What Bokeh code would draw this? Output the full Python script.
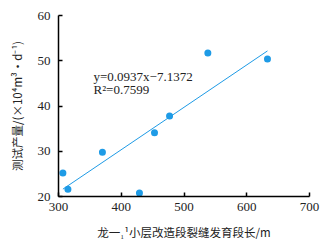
from bokeh.plotting import figure
from bokeh.embed import file_html
from bokeh.resources import INLINE
from bokeh.models import Label, FixedTicker

crack_length = [307, 315, 370, 429, 453, 477, 538, 633]
test_yield = [25.2, 21.6, 29.8, 20.8, 34.1, 37.8, 51.7, 50.4]
slope = 0.0937
intercept = -7.1372
x_ticks = [300, 400, 500, 600, 700]
y_ticks = [20, 30, 40, 50, 60]
eq_text = "y=0.0937x\u22127.1372"
r2_text = "R\u00b2=0.7599"
x_label = "龙一\u2081\u00b9小层改造段裂缝发育段长/m"
y_label = "测试产量/(×10\u2074m\u00b3·d\u207b\u00b9)"

p = figure(width=327, height=247, output_backend="svg", toolbar_location=None,
           x_range=(300, 700), y_range=(20, 60),
           min_border_left=58, min_border_right=18, min_border_top=15, min_border_bottom=51)
p.outline_line_color = None
p.grid.grid_line_color = None
p.background_fill_color = "white"
p.border_fill_color = "white"

serif = "'Liberation Serif', 'Times New Roman', 'Noto Serif CJK SC', 'Noto Sans CJK SC', serif"
cjk = "'Noto Sans CJK SC', 'Liberation Serif', serif"

for ax, ticks in ((p.xaxis, x_ticks), (p.yaxis, y_ticks)):
    ax.ticker = FixedTicker(ticks=ticks)
    ax.minor_tick_line_color = None
    ax.major_tick_in = 4
    ax.major_tick_out = 0
    ax.axis_line_color = "black"
    ax.axis_line_width = 1.5
    ax.major_tick_line_color = "black"
    ax.major_tick_line_width = 1.5
    ax.major_label_text_font = serif
    ax.major_label_text_font_size = "13px"
    ax.major_label_text_color = "#222222"
    ax.axis_label_text_font = cjk
    ax.axis_label_text_font_size = "11.5px"
    ax.axis_label_text_font_style = "normal"
    ax.axis_label_text_color = "#222222"

p.xaxis.axis_label = x_label
p.yaxis.axis_label = y_label
p.xaxis.major_label_standoff = 6
p.yaxis.major_label_standoff = 8
p.xaxis.axis_label_standoff = 10
p.yaxis.axis_label_standoff = 10

x0, x1 = min(crack_length), max(crack_length)
p.line([x0, x1], [slope * x0 + intercept, slope * x1 + intercept], line_color="#1E9BE6", line_width=1)
p.scatter(crack_length, test_yield, size=7, fill_color="#1E9BE6", line_color=None)

for txt, yy in ((eq_text, 113), (r2_text, 100)):
    p.add_layout(Label(x=35, y=yy, x_units="screen", y_units="screen",
                       text=txt, text_font=serif, text_font_size="13px",
                       text_color="#222222"))

open("out.html", "w").write(file_html(p, INLINE))
